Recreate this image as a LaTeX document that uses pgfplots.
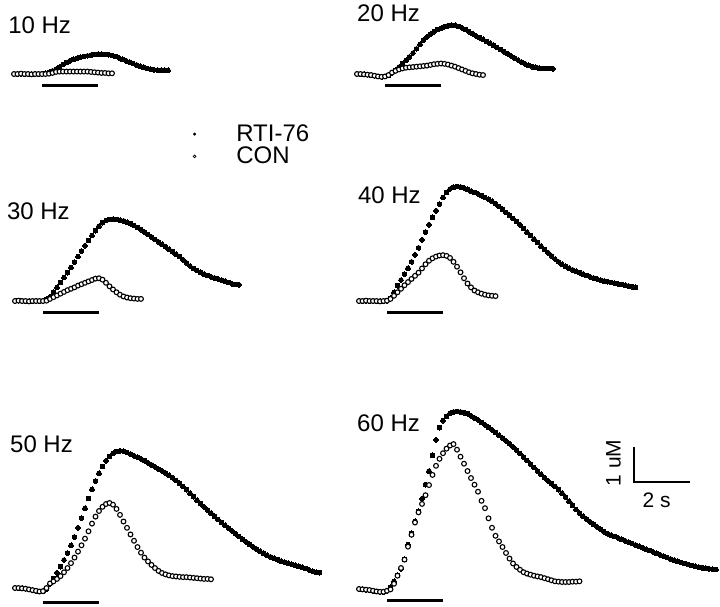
\documentclass[border=0pt]{standalone}
\usepackage{fontspec}
\setmainfont{Liberation Sans}
\usepackage{pgfplots}
\usepackage{pgfplotstable}
\pgfplotsset{compat=1.18}

% traces: t in s (stimulus starts at 0), free Ca in uM above baseline
\pgfplotstableread{
t y
-1.0 0.00
-0.875 0.00
-0.75 0.01
-0.625 0.00
-0.5 0.00
-0.375 -0.01
-0.25 0.00
-0.125 0.00
0 0.00
0.125 0.02
0.25 0.05
0.375 0.09
0.5 0.14
0.625 0.20
0.75 0.27
0.875 0.33
1.0 0.38
1.125 0.42
1.25 0.45
1.375 0.48
1.5 0.50
1.625 0.52
1.75 0.54
1.875 0.56
2.0 0.57
2.125 0.57
2.25 0.56
2.375 0.55
2.5 0.53
2.625 0.50
2.75 0.46
2.875 0.42
3.0 0.38
3.125 0.34
3.25 0.30
3.375 0.26
3.5 0.22
3.625 0.19
3.75 0.16
3.875 0.14
4.0 0.12
4.125 0.11
4.25 0.11
4.375 0.11
4.5 0.11
}\rtiten
\pgfplotstableread{
t y
-1.0 0.00
-0.875 0.00
-0.75 0.01
-0.625 0.00
-0.5 0.00
-0.375 -0.01
-0.25 0.00
-0.125 0.00
0 0.00
0.125 0.00
0.25 0.01
0.375 0.03
0.5 0.06
0.625 0.07
0.75 0.07
0.875 0.07
1.0 0.07
1.125 0.07
1.25 0.07
1.375 0.07
1.5 0.07
1.625 0.07
1.75 0.06
1.875 0.05
2.0 0.04
2.125 0.03
2.25 0.03
2.375 0.02
2.5 0.02
}\conten

\pgfplotstableread{
t y
-1.0 0.00
-0.875 0.00
-0.75 -0.01
-0.625 -0.02
-0.5 -0.03
-0.375 -0.05
-0.25 -0.07
-0.125 -0.08
0 -0.07
0.125 -0.04
0.25 0.03
0.375 0.11
0.5 0.20
0.625 0.30
0.75 0.39
0.875 0.49
1.0 0.60
1.125 0.72
1.25 0.85
1.375 0.97
1.5 1.06
1.625 1.14
1.75 1.21
1.875 1.27
2.0 1.31
2.125 1.35
2.25 1.38
2.375 1.40
2.5 1.39
2.625 1.36
2.75 1.32
2.875 1.27
3.0 1.21
3.125 1.15
3.25 1.09
3.375 1.04
3.5 0.99
3.625 0.93
3.75 0.88
3.875 0.82
4.0 0.76
4.125 0.70
4.25 0.64
4.375 0.58
4.5 0.52
4.625 0.46
4.75 0.40
4.875 0.34
5.0 0.29
5.125 0.25
5.25 0.21
5.375 0.19
5.5 0.17
5.625 0.16
5.75 0.16
5.875 0.16
6.0 0.15
}\rtitwenty
\pgfplotstableread{
t y
-1.0 0.00
-0.875 0.00
-0.75 -0.01
-0.625 -0.02
-0.5 -0.03
-0.375 -0.05
-0.25 -0.07
-0.125 -0.08
0 -0.07
0.125 -0.03
0.25 0.04
0.375 0.09
0.5 0.13
0.625 0.16
0.75 0.18
0.875 0.19
1.0 0.20
1.125 0.21
1.25 0.22
1.375 0.23
1.5 0.24
1.625 0.26
1.75 0.28
1.875 0.29
2.0 0.30
2.125 0.29
2.25 0.27
2.375 0.24
2.5 0.21
2.625 0.17
2.75 0.13
2.875 0.09
3.0 0.05
3.125 0.02
3.25 0.00
3.375 -0.02
3.5 -0.03
}\contwenty

\pgfplotstableread{
t y
-1.0 0.00
-0.875 0.01
-0.75 0.00
-0.625 0.00
-0.5 -0.01
-0.375 0.00
-0.25 0.00
-0.125 0.00
0 0.00
0.125 0.05
0.25 0.12
0.375 0.25
0.5 0.39
0.625 0.53
0.75 0.67
0.875 0.81
1.0 0.96
1.125 1.11
1.25 1.27
1.375 1.43
1.5 1.58
1.625 1.73
1.75 1.87
1.875 2.01
2.0 2.14
2.125 2.24
2.25 2.30
2.375 2.33
2.5 2.34
2.625 2.33
2.75 2.31
2.875 2.29
3.0 2.25
3.125 2.21
3.25 2.16
3.375 2.10
3.5 2.04
3.625 1.97
3.75 1.90
3.875 1.83
4.0 1.76
4.125 1.69
4.25 1.62
4.375 1.55
4.5 1.48
4.625 1.41
4.75 1.34
4.875 1.27
5.0 1.18
5.125 1.09
5.25 1.00
5.375 0.93
5.5 0.87
5.625 0.82
5.75 0.77
5.875 0.73
6.0 0.69
6.125 0.66
6.25 0.63
6.375 0.60
6.5 0.57
6.625 0.53
6.75 0.49
6.875 0.47
7.0 0.46
}\rtithirty
\pgfplotstableread{
t y
-1.0 0.00
-0.875 0.01
-0.75 0.00
-0.625 0.00
-0.5 -0.01
-0.375 0.00
-0.25 0.00
-0.125 0.00
0 0.00
0.125 0.01
0.25 0.06
0.375 0.11
0.5 0.16
0.625 0.21
0.75 0.26
0.875 0.31
1.0 0.35
1.125 0.39
1.25 0.44
1.375 0.48
1.5 0.52
1.625 0.56
1.75 0.60
1.875 0.64
2.0 0.65
2.125 0.61
2.25 0.52
2.375 0.42
2.5 0.33
2.625 0.25
2.75 0.18
2.875 0.13
3.0 0.10
3.125 0.08
3.25 0.07
3.375 0.06
3.5 0.06
}\conthirty

\pgfplotstableread{
t y
-1.0 0.00
-0.875 0.00
-0.75 0.01
-0.625 0.00
-0.5 0.00
-0.375 0.00
-0.25 -0.01
-0.125 0.00
0 0.01
0.125 0.08
0.25 0.25
0.375 0.44
0.5 0.60
0.625 0.77
0.75 0.94
0.875 1.12
1.0 1.32
1.125 1.52
1.25 1.75
1.375 1.97
1.5 2.18
1.625 2.39
1.75 2.58
1.875 2.77
2.0 2.96
2.125 3.10
2.25 3.20
2.375 3.25
2.5 3.27
2.625 3.26
2.75 3.23
2.875 3.19
3.0 3.14
3.125 3.10
3.25 3.06
3.375 3.01
3.5 2.96
3.625 2.91
3.75 2.85
3.875 2.78
4.0 2.70
4.125 2.62
4.25 2.53
4.375 2.45
4.5 2.36
4.625 2.27
4.75 2.18
4.875 2.07
5.0 1.97
5.125 1.87
5.25 1.77
5.375 1.67
5.5 1.57
5.625 1.47
5.75 1.38
5.875 1.29
6.0 1.20
6.125 1.12
6.25 1.05
6.375 0.99
6.5 0.94
6.625 0.89
6.75 0.85
6.875 0.81
7.0 0.77
7.125 0.73
7.25 0.69
7.375 0.66
7.5 0.63
7.625 0.60
7.75 0.57
7.875 0.55
8.0 0.53
8.125 0.51
8.25 0.49
8.375 0.47
8.5 0.45
8.625 0.43
8.75 0.41
8.875 0.39
}\rtiforty
\pgfplotstableread{
t y
-1.0 0.00
-0.875 0.00
-0.75 0.01
-0.625 0.00
-0.5 0.00
-0.375 0.00
-0.25 -0.01
-0.125 0.00
0 0.01
0.125 0.06
0.25 0.15
0.375 0.25
0.5 0.35
0.625 0.45
0.75 0.54
0.875 0.63
1.0 0.72
1.125 0.81
1.25 0.93
1.375 1.05
1.5 1.15
1.625 1.22
1.75 1.27
1.875 1.30
2.0 1.31
2.125 1.29
2.25 1.23
2.375 1.12
2.5 0.98
2.625 0.82
2.75 0.65
2.875 0.50
3.0 0.39
3.125 0.30
3.25 0.25
3.375 0.21
3.5 0.18
3.625 0.16
3.75 0.15
3.875 0.14
}\conforty

\pgfplotstableread{
t y
-1.0 0.00
-0.875 0.00
-0.75 -0.01
-0.625 -0.02
-0.5 -0.04
-0.375 -0.06
-0.25 -0.08
-0.125 -0.10
0 -0.09
0.125 -0.03
0.25 0.12
0.375 0.27
0.5 0.43
0.625 0.61
0.75 0.80
0.875 1.00
1.0 1.22
1.125 1.46
1.25 1.72
1.375 2.00
1.5 2.28
1.625 2.56
1.75 2.82
1.875 3.06
2.0 3.28
2.125 3.47
2.25 3.63
2.375 3.76
2.5 3.85
2.625 3.90
2.75 3.92
2.875 3.91
3.0 3.87
3.125 3.83
3.25 3.78
3.375 3.74
3.5 3.69
3.625 3.64
3.75 3.58
3.875 3.52
4.0 3.46
4.125 3.40
4.25 3.35
4.375 3.29
4.5 3.22
4.625 3.15
4.75 3.07
4.875 2.99
5.0 2.90
5.125 2.81
5.25 2.71
5.375 2.61
5.5 2.51
5.625 2.41
5.75 2.32
5.875 2.23
6.0 2.14
6.125 2.05
6.25 1.96
6.375 1.87
6.5 1.79
6.625 1.71
6.75 1.63
6.875 1.55
7.0 1.47
7.125 1.39
7.25 1.32
7.375 1.25
7.5 1.18
7.625 1.11
7.75 1.05
7.875 0.99
8.0 0.94
8.125 0.89
8.25 0.85
8.375 0.81
8.5 0.77
8.625 0.74
8.75 0.71
8.875 0.68
9.0 0.65
9.125 0.62
9.25 0.59
9.375 0.56
9.5 0.52
9.625 0.48
9.75 0.45
9.875 0.44
}\rtififty
\pgfplotstableread{
t y
-1.0 0.00
-0.875 0.00
-0.75 -0.01
-0.625 -0.02
-0.5 -0.04
-0.375 -0.06
-0.25 -0.08
-0.125 -0.10
0 -0.09
0.125 0.00
0.25 0.13
0.375 0.19
0.5 0.26
0.625 0.34
0.75 0.45
0.875 0.57
1.0 0.71
1.125 0.87
1.25 1.04
1.375 1.22
1.5 1.41
1.625 1.62
1.75 1.84
1.875 2.04
2.0 2.20
2.125 2.32
2.25 2.40
2.375 2.43
2.5 2.38
2.625 2.26
2.75 2.09
2.875 1.90
3.0 1.72
3.125 1.53
3.25 1.35
3.375 1.17
3.5 1.01
3.625 0.87
3.75 0.76
3.875 0.66
4.0 0.57
4.125 0.49
4.25 0.43
4.375 0.39
4.5 0.36
4.625 0.34
4.75 0.33
4.875 0.32
5.0 0.31
5.125 0.31
5.25 0.30
5.375 0.29
5.5 0.28
5.625 0.27
5.75 0.26
5.875 0.26
6.0 0.25
}\confifty

\pgfplotstableread{
t y
-1.0 0.00
-0.875 -0.01
-0.75 -0.02
-0.625 -0.03
-0.5 -0.05
-0.375 -0.07
-0.25 -0.08
-0.125 -0.08
0 -0.05
0.125 0.05
0.25 0.22
0.375 0.40
0.5 0.58
0.625 0.85
0.75 1.27
0.875 1.59
1.0 1.94
1.125 2.22
1.25 2.58
1.375 2.98
1.5 3.37
1.625 3.82
1.75 4.26
1.875 4.61
2.0 4.81
2.125 4.93
2.25 5.02
2.375 5.06
2.5 5.07
2.625 5.06
2.75 5.04
2.875 5.01
3.0 4.95
3.125 4.89
3.25 4.83
3.375 4.76
3.5 4.69
3.625 4.62
3.75 4.55
3.875 4.47
4.0 4.39
4.125 4.31
4.25 4.23
4.375 4.15
4.5 4.06
4.625 3.97
4.75 3.87
4.875 3.77
5.0 3.67
5.125 3.57
5.25 3.47
5.375 3.37
5.5 3.28
5.625 3.18
5.75 3.09
5.875 3.01
6.0 2.93
6.125 2.84
6.25 2.74
6.375 2.63
6.5 2.51
6.625 2.39
6.75 2.27
6.875 2.17
7.0 2.08
7.125 2.00
7.25 1.92
7.375 1.85
7.5 1.78
7.625 1.71
7.75 1.64
7.875 1.58
8.0 1.54
8.125 1.50
8.25 1.46
8.375 1.42
8.5 1.38
8.625 1.34
8.75 1.30
8.875 1.26
9.0 1.22
9.125 1.18
9.25 1.14
9.375 1.10
9.5 1.06
9.625 1.02
9.75 0.98
9.875 0.94
10.0 0.90
10.125 0.86
10.25 0.82
10.375 0.79
10.5 0.76
10.625 0.73
10.75 0.70
10.875 0.67
11.0 0.65
11.125 0.63
11.25 0.61
11.375 0.59
11.5 0.58
11.625 0.57
11.75 0.56
}\rtisixty
\pgfplotstableread{
t y
-1.0 0.00
-0.875 -0.01
-0.75 -0.02
-0.625 -0.03
-0.5 -0.05
-0.375 -0.07
-0.25 -0.08
-0.125 -0.08
0 -0.05
0.125 -0.01
0.25 0.15
0.375 0.38
0.5 0.60
0.625 0.84
0.75 1.21
0.875 1.55
1.0 1.90
1.125 2.19
1.25 2.43
1.375 2.68
1.5 2.97
1.625 3.26
1.75 3.52
1.875 3.72
2.0 3.88
2.125 4.01
2.25 4.10
2.375 4.14
2.5 3.98
2.625 3.78
2.75 3.58
2.875 3.37
3.0 3.17
3.125 2.98
3.25 2.78
3.375 2.52
3.5 2.31
3.625 2.02
3.75 1.75
3.875 1.52
4.0 1.36
4.125 1.20
4.25 1.03
4.375 0.87
4.5 0.73
4.625 0.63
4.75 0.55
4.875 0.48
5.0 0.44
5.125 0.41
5.25 0.38
5.375 0.36
5.5 0.34
5.625 0.31
5.75 0.28
5.875 0.25
6.0 0.22
6.125 0.21
6.25 0.20
6.375 0.20
6.5 0.20
6.625 0.21
6.75 0.21
6.875 0.22
}\consixty

\pgfplotsset{
  panel/.style={hide axis, x=28pt, y=35pt, clip=false, anchor=origin},
  rti/.style={only marks, mark=*, mark size=2.4pt, black, mark options={draw=black, fill=black, line width=0pt},
    legend image code/.code={\fill[black] (0pt,0pt) circle (1.3pt);}},
  con/.style={only marks, mark=*, mark size=2.4pt, black, mark options={draw=black, fill=white, line width=1.1pt},
    legend image code/.code={\draw[black, line width=0.7pt, fill=white] (0pt,0pt) circle (1.4pt);}},
  stim/.style={no marks, black, line width=3pt},
}
\tikzset{lab/.style={anchor=base west, inner sep=0pt, font=\fontsize{24}{28}\selectfont}}

\begin{document}
\begin{tikzpicture}
\useasboundingbox (0pt,0pt) rectangle (720pt,-606pt);

\begin{axis}[panel, at={(42pt,-74pt)},
  legend style={at={(axis cs:5.38,-1.45)}, anchor=north west, draw=none, fill=none,
    inner sep=0pt, row sep=4pt, font=\fontsize{24}{28}\selectfont,
    nodes={inner sep=0pt}, legend cell align=left,
    /tikz/every odd column/.append style={column sep=40pt}}]
\addplot[rti] table {\rtiten}; \addlegendentry{RTI-76}
\addplot[con] table {\conten}; \addlegendentry{CON}
\addplot[stim, forget plot] coordinates {(0,-0.34) (2,-0.34)};
\node[lab] at (axis cs:-1.21,1.17) {10 Hz};
\end{axis}

\begin{axis}[panel, at={(385pt,-74pt)}]
\addplot[rti] table {\rtitwenty};
\addplot[con] table {\contwenty};
\addplot[stim] coordinates {(0,-0.34) (2,-0.34)};
\node[lab] at (axis cs:-1.0,1.49) {20 Hz};
\end{axis}

\begin{axis}[panel, at={(43pt,-301pt)}]
\addplot[rti] table {\rtithirty};
\addplot[con] table {\conthirty};
\addplot[stim] coordinates {(0,-0.34) (2,-0.34)};
\node[lab] at (axis cs:-1.29,2.34) {30 Hz};
\end{axis}

\begin{axis}[panel, at={(387pt,-301pt)}]
\addplot[rti] table {\rtiforty};
\addplot[con] table {\conforty};
\addplot[stim] coordinates {(0,-0.34) (2,-0.34)};
\node[lab] at (axis cs:-1.04,2.8) {40 Hz};
\end{axis}

\begin{axis}[panel, at={(43pt,-588pt)}]
\addplot[rti] table {\rtififty};
\addplot[con] table {\confifty};
\addplot[stim] coordinates {(0,-0.40) (2,-0.40)};
\node[lab] at (axis cs:-1.18,3.86) {50 Hz};
\end{axis}

\begin{axis}[panel, at={(387pt,-589pt)}]
\addplot[rti] table {\rtisixty};
\addplot[con] table {\consixty};
\addplot[stim] coordinates {(0,-0.34) (2,-0.34)};
% scale bar: 1 uM, 2 s
\addplot[no marks, black, line width=2.6pt] coordinates {(8.82,4.06) (8.82,3.06) (10.82,3.06)};
\node[lab] at (axis cs:-1.07,4.49) {60 Hz};
\node[rotate=90, inner sep=0pt, font=\fontsize{21}{24}\selectfont] at (axis cs:8.09,3.6) {1 uM};
\node[inner sep=0pt, font=\fontsize{21}{24}\selectfont] at (axis cs:9.63,2.53) {2 s};
\end{axis}
\end{tikzpicture}
\end{document}
